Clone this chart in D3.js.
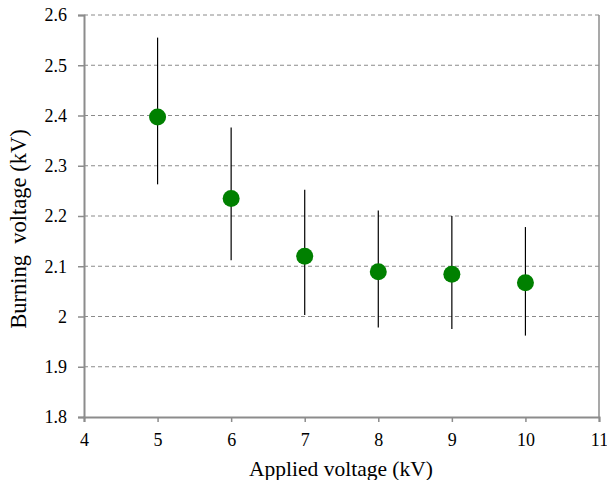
<!DOCTYPE html>
<html>
<head>
<meta charset="utf-8">
<script src="https://cdn.jsdelivr.net/npm/d3@7"></script>
<style>
  html, body { margin: 0; padding: 0; background: #fff; }
  svg { display: block; }
</style>
</head>
<body>
<svg id="chart" width="607" height="480"></svg>
<script>
// Applied voltage (kV)
const appliedVoltage = [5, 6, 7, 8, 9, 10];
// Mean burning voltage (kV)
const burningVoltage = [2.397, 2.235, 2.120, 2.089, 2.084, 2.067];
// Error bar extents (kV)
const errorHigh = [2.555, 2.376, 2.252, 2.211, 2.200, 2.178];
const errorLow  = [2.263, 2.112, 2.003, 1.978, 1.975, 1.962];
// Axis ticks
const xTicks = [4, 5, 6, 7, 8, 9, 10, 11];
const yTicks = [1.8, 1.9, 2.0, 2.1, 2.2, 2.3, 2.4, 2.5, 2.6];

const serif = "'Liberation Serif', 'Times New Roman', Times, serif";

const svg = d3.select("#chart");
const margin = { left: 84, right: 8, top: 15, bottom: 63 };
const W = 607, H = 480;
const x = d3.scaleLinear().domain([4, 11]).range([margin.left, W - margin.right]);
const y = d3.scaleLinear().domain([1.8, 2.6]).range([H - margin.bottom, margin.top]);

const grey = "#8c8c8c";

// dashed horizontal gridlines
svg.append("g")
  .selectAll("line")
  .data(yTicks.filter(d => d > 1.8))
  .join("line")
  .attr("x1", x(4)).attr("x2", x(11))
  .attr("y1", d => y(d)).attr("y2", d => y(d))
  .attr("stroke", "#8a8a8a")
  .attr("stroke-width", 1)
  .attr("stroke-dasharray", "4,3");

// right border of the plot area
svg.append("line")
  .attr("x1", x(11)).attr("x2", x(11))
  .attr("y1", y(2.6)).attr("y2", y(1.8))
  .attr("stroke", grey).attr("stroke-width", 1.5);

// y axis
const yAxis = d3.axisLeft(y)
  .tickValues(yTicks)
  .tickSize(6)
  .tickPadding(11)
  .tickFormat(d => String(+d.toFixed(1)));
const gy = svg.append("g").attr("transform", `translate(${x(4)},0)`).call(yAxis);
gy.select(".domain").attr("stroke", grey).attr("stroke-width", 2);
gy.selectAll(".tick line").attr("stroke", grey).attr("stroke-width", 1.5);
gy.selectAll(".tick text").style("font-family", serif).style("font-size", "18px").attr("fill", "#000");

// x axis
const xAxis = d3.axisBottom(x)
  .tickValues(xTicks)
  .tickSize(5)
  .tickPadding(11)
  .tickFormat(d3.format("d"));
const gx = svg.append("g").attr("transform", `translate(0,${y(1.8)})`).call(xAxis);
gx.select(".domain").attr("stroke", grey).attr("stroke-width", 2);
gx.selectAll(".tick line").attr("stroke", grey).attr("stroke-width", 1.5);
gx.selectAll(".tick text").style("font-family", serif).style("font-size", "18px").attr("fill", "#000");

// error bars
svg.append("g")
  .selectAll("line")
  .data(appliedVoltage)
  .join("line")
  .attr("x1", d => x(d)).attr("x2", d => x(d))
  .attr("y1", (d, i) => y(errorHigh[i]))
  .attr("y2", (d, i) => y(errorLow[i]))
  .attr("stroke", "#000")
  .attr("stroke-width", 1.2);

// mean markers
svg.append("g")
  .selectAll("circle")
  .data(appliedVoltage)
  .join("circle")
  .attr("cx", d => x(d))
  .attr("cy", (d, i) => y(burningVoltage[i]))
  .attr("r", 8.5)
  .attr("fill", "#008000");

// axis titles
svg.append("text")
  .attr("x", 341).attr("y", 476)
  .attr("text-anchor", "middle")
  .style("font-family", serif)
  .style("font-size", "21.5px")
  .text("Applied voltage (kV)");

svg.append("text")
  .attr("transform", "translate(26,229) rotate(-90)")
  .attr("text-anchor", "middle")
  .style("font-family", serif)
  .style("font-size", "22.5px")
  .style("white-space", "pre")
  .text("Burning  voltage (kV)");
</script>
</body>
</html>
